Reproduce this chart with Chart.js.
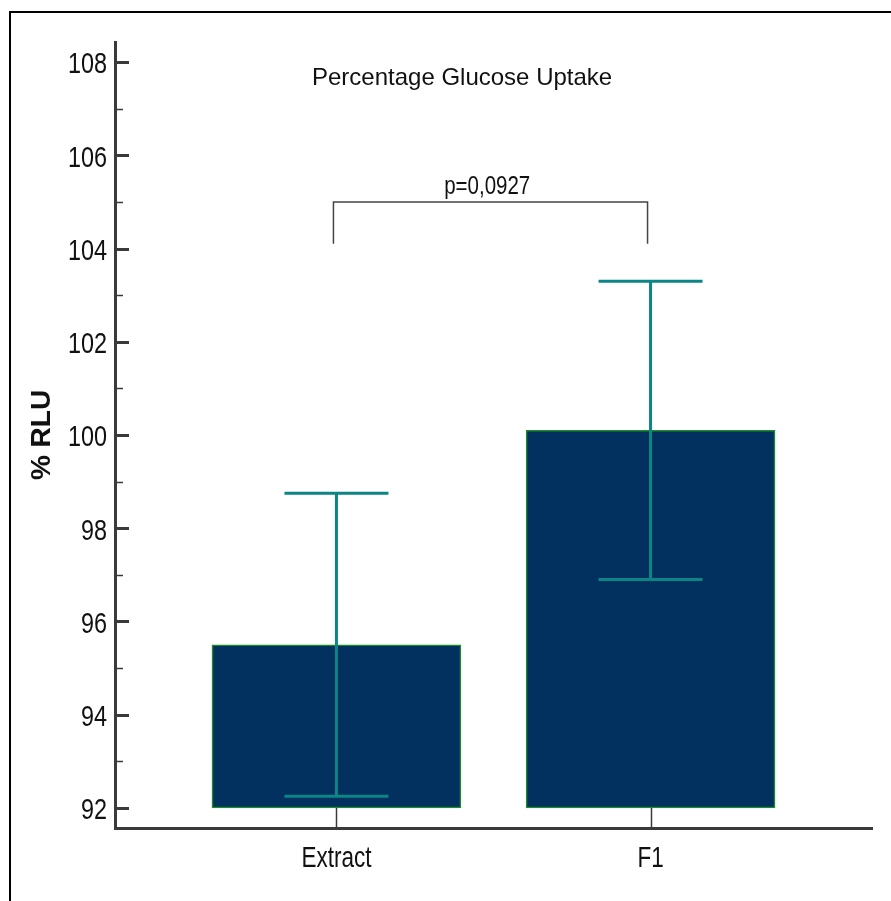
<!DOCTYPE html>
<html>
<head>
<meta charset="utf-8">
<script src="https://cdn.jsdelivr.net/npm/chart.js@4.4.1/dist/chart.umd.min.js"></script>
<style>
  html, body { margin: 0; padding: 0; background: #fff; }
  #wrap { width: 891px; height: 901px; position: relative; }
</style>
</head>
<body>
<div id="wrap"><canvas id="c" width="891" height="901"></canvas></div>
<script>
// Glucose uptake (% RLU), mean with error
const categories = ['Extract', 'F1'];
const meanRLU = [95.5, 100.1];
const errRLU = [3.25, 3.2];
const yTicks = [92, 94, 96, 98, 100, 102, 104, 106, 108];
const yMinorTicks = [93, 95, 97, 99, 101, 103, 105, 107];
const titleText = 'Percentage Glucose Uptake';
const axisTitle = '% RLU';
const pValueLabel = 'p=0,0927';
const barBase = 92;

const SANS = "'Liberation Sans', Arial, sans-serif";

// draw text squeezed horizontally (condensed look)
function condensedText(ctx, text, x, y, sx, align) {
  ctx.save();
  ctx.translate(x, y);
  ctx.scale(sx, 1);
  ctx.textAlign = align;
  ctx.fillText(text, 0, 0);
  ctx.restore();
}

const overlay = {
  id: 'overlay',
  beforeDraw(chart) {
    const ctx = chart.ctx;
    ctx.save();
    ctx.fillStyle = '#fff';
    ctx.fillRect(0, 0, chart.width, chart.height);
    // page frame
    ctx.strokeStyle = '#000';
    ctx.lineWidth = 2;
    ctx.beginPath();
    ctx.moveTo(10, chart.height);
    ctx.lineTo(10, 12);
    ctx.lineTo(chart.width, 12);
    ctx.stroke();
    ctx.restore();
  },
  afterDraw(chart) {
    const ctx = chart.ctx;
    const xs = chart.scales.x, ys = chart.scales.y;
    const area = chart.chartArea;
    ctx.save();

    // y tick marks (inside)
    ctx.strokeStyle = '#3a3a3a';
    ctx.lineWidth = 3;
    yTicks.forEach(v => {
      const y = Math.round(ys.getPixelForValue(v)) + 0.5;
      ctx.beginPath(); ctx.moveTo(area.left, y); ctx.lineTo(area.left + 14, y); ctx.stroke();
    });
    ctx.lineWidth = 1.5;
    yMinorTicks.forEach(v => {
      const y = Math.round(ys.getPixelForValue(v)) + 0.5;
      ctx.beginPath(); ctx.moveTo(area.left, y); ctx.lineTo(area.left + 8, y); ctx.stroke();
    });

    // x tick marks (inside)
    ctx.lineWidth = 1.5;
    categories.forEach((c, i) => {
      const x = Math.round(xs.getPixelForValue(i)) + 0.5;
      ctx.beginPath(); ctx.moveTo(x, area.bottom); ctx.lineTo(x, area.bottom - 20); ctx.stroke();
    });

    // tick labels
    ctx.fillStyle = '#111';
    ctx.font = '30px ' + SANS;
    ctx.textBaseline = 'middle';
    yTicks.forEach(v => {
      condensedText(ctx, String(v), area.left - 8, ys.getPixelForValue(v) + 3, 0.78, 'right');
    });
    categories.forEach((c, i) => {
      condensedText(ctx, c, xs.getPixelForValue(i), area.bottom + 31, 0.75, 'center');
    });

    // error bars
    ctx.strokeStyle = '#0b8585';
    ctx.lineWidth = 3;
    categories.forEach((c, i) => {
      const x = xs.getPixelForValue(i);
      const yHi = ys.getPixelForValue(meanRLU[i] + errRLU[i]);
      const yLo = ys.getPixelForValue(meanRLU[i] - errRLU[i]);
      const half = 52;
      ctx.beginPath();
      ctx.moveTo(x, yHi); ctx.lineTo(x, yLo);
      ctx.moveTo(x - half, yHi); ctx.lineTo(x + half, yHi);
      ctx.moveTo(x - half, yLo); ctx.lineTo(x + half, yLo);
      ctx.stroke();
    });

    // significance bracket
    const bx0 = xs.getPixelForValue(0) - 3, bx1 = xs.getPixelForValue(1) - 3;
    const bTop = ys.getPixelForValue(105.0), bEnd = ys.getPixelForValue(104.1);
    ctx.strokeStyle = '#444';
    ctx.lineWidth = 1.5;
    ctx.beginPath();
    ctx.moveTo(bx0, bEnd); ctx.lineTo(bx0, bTop); ctx.lineTo(bx1, bTop); ctx.lineTo(bx1, bEnd);
    ctx.stroke();

    ctx.fillStyle = '#111';
    ctx.textBaseline = 'alphabetic';
    ctx.font = '25px ' + SANS;
    condensedText(ctx, pValueLabel, xs.getPixelForValue(0.48), bTop - 8, 0.82, 'center');

    // chart title
    ctx.font = '24px ' + SANS;
    ctx.textAlign = 'center';
    ctx.textBaseline = 'middle';
    ctx.fillText(titleText, xs.getPixelForValue(0.4), ys.getPixelForValue(107.64));
    ctx.restore();
  }
};

new Chart(document.getElementById('c'), {
  type: 'bar',
  data: {
    datasets: [{
      data: categories.map((c, i) => ({ x: i, y: meanRLU[i] })),
      base: barBase,
      backgroundColor: '#02315f',
      borderColor: '#1e8b2a',
      borderWidth: 1.5,
      borderSkipped: false,
      barThickness: 249
    }]
  },
  options: {
    responsive: false,
    animation: false,
    devicePixelRatio: 1,
    layout: { padding: { top: 42, right: 19, bottom: 0, left: 0 } },
    plugins: { legend: { display: false }, tooltip: { enabled: false }, title: { display: false } },
    scales: {
      x: {
        type: 'linear',
        offset: false,
        min: -0.705,
        max: 1.705,
        afterBuildTicks: s => { s.ticks = categories.map((c, i) => ({ value: i })); },
        afterFit: s => { s.height = 73; },
        ticks: { display: false },
        grid: { display: false, offset: false, drawTicks: false },
        border: { display: true, color: '#3a3a3a', width: 3 }
      },
      y: {
        type: 'linear',
        min: 91.57,
        max: 108.43,
        afterBuildTicks: s => { s.ticks = yTicks.map(v => ({ value: v })); },
        afterFit: s => { s.width = 115; },
        ticks: { display: false },
        grid: { display: false, drawTicks: false },
        border: { display: true, color: '#3a3a3a', width: 3 },
        title: {
          display: true,
          text: axisTitle,
          color: '#111',
          font: { family: SANS, size: 28, weight: 'bold' },
          padding: { top: 25, bottom: 0 }
        }
      }
    }
  },
  plugins: [overlay]
});
</script>
</body>
</html>
